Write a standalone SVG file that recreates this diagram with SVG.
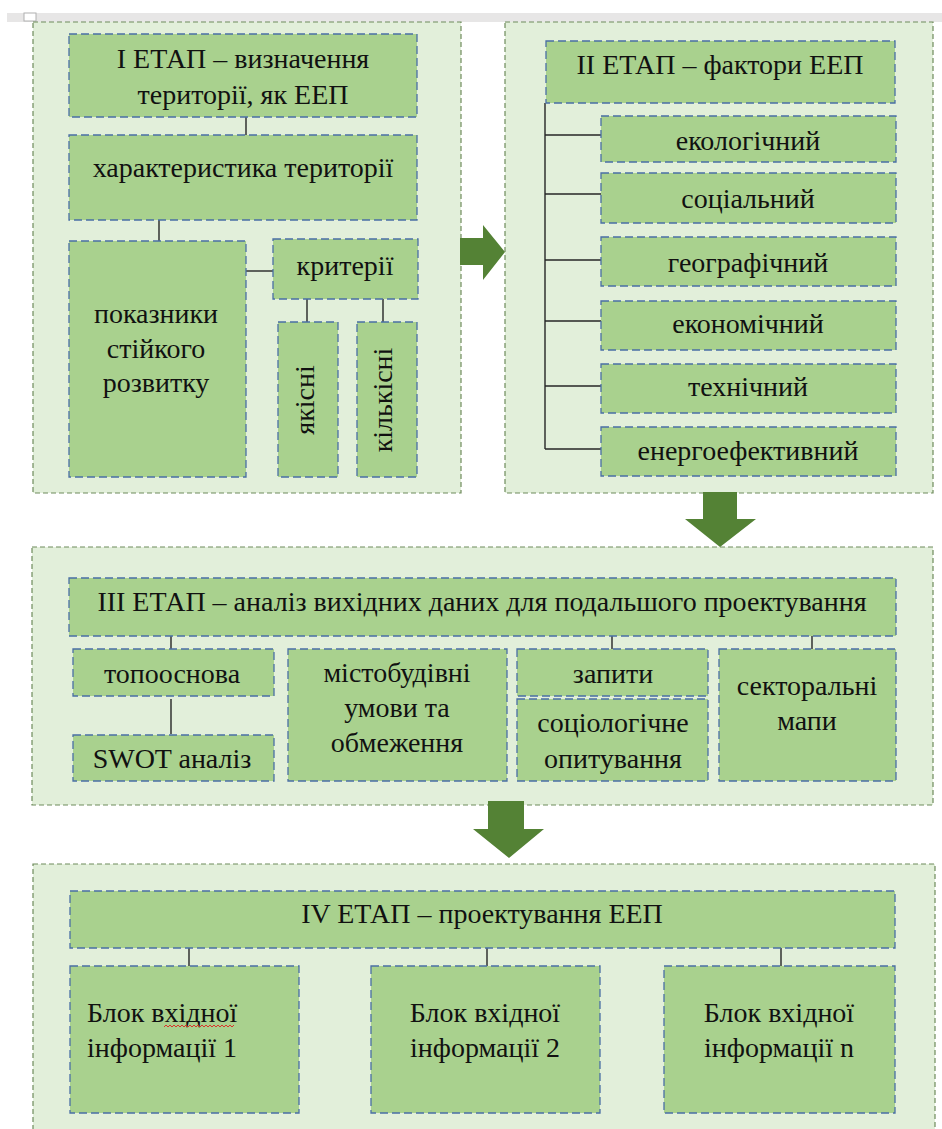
<svg xmlns="http://www.w3.org/2000/svg" width="942" height="1129" viewBox="0 0 942 1129">
  <style>
    .panel { fill: #e2efda; stroke: #6e8b5c; stroke-width: 1.2; stroke-dasharray: 5 3; }
    .box { fill: #a9d18e; stroke: #4a6fa5; stroke-width: 1.3; stroke-dasharray: 8 4; }
    .link { stroke: #262626; stroke-width: 1.4; fill: none; }
    .arrow { fill: #548235; }
    .c { text-anchor: middle; }
  </style>

  <!-- page background and ruler strip -->
  <rect x="0" y="0" width="942" height="1129" fill="#ffffff"/>
  <rect x="7" y="13" width="935" height="9" fill="#e7e6e6"/>
  <rect x="24" y="13" width="12" height="8" fill="#ffffff" stroke="#b0b0b0" stroke-width="1"/>

  <!-- stage panels -->
  <g id="panels">
    <rect class="panel" x="33" y="22" width="428" height="471"/>
    <rect class="panel" x="505" y="22" width="428" height="471"/>
    <rect class="panel" x="32" y="547" width="901" height="258"/>
    <rect class="panel" x="33" y="864" width="902" height="275"/>
  </g>

  <!-- block arrows between stages -->
  <g id="arrows">
    <polygon class="arrow" points="460,238 483,238 483,225 505,252 483,280 483,265 460,265"/>
    <polygon class="arrow" points="703,492 737,492 737,519 756,519 720,547 685,519 703,519"/>
    <polygon class="arrow" points="488,801 524,801 524,829 544,829 509,858 473,829 488,829"/>
  </g>

  <!-- connectors -->
  <g id="connectors">
    <line class="link" x1="246" y1="117" x2="246" y2="135"/>
    <line class="link" x1="159" y1="220" x2="159" y2="241"/>
    <line class="link" x1="246" y1="271" x2="273" y2="271"/>
    <line class="link" x1="307" y1="299" x2="307" y2="322"/>
    <line class="link" x1="383" y1="299" x2="383" y2="322"/>

    <path class="link" d="M545,103 V449"/>
    <line class="link" x1="545" y1="135" x2="601" y2="135"/>
    <line class="link" x1="545" y1="194" x2="601" y2="194"/>
    <line class="link" x1="545" y1="260" x2="601" y2="260"/>
    <line class="link" x1="545" y1="321" x2="601" y2="321"/>
    <line class="link" x1="545" y1="386" x2="601" y2="386"/>
    <line class="link" x1="545" y1="449" x2="601" y2="449"/>

    <line class="link" x1="171" y1="636" x2="171" y2="649"/>
    <line class="link" x1="612" y1="636" x2="612" y2="649"/>
    <line class="link" x1="812" y1="636" x2="812" y2="660"/>
    <line class="link" x1="171" y1="699" x2="171" y2="734"/>

    <line class="link" x1="189" y1="948" x2="189" y2="966"/>
    <line class="link" x1="487" y1="948" x2="487" y2="966"/>
    <line class="link" x1="781" y1="948" x2="781" y2="966"/>
  </g>

  <g font-family="'Liberation Serif', 'Times New Roman', serif" font-size="28" fill="#111111">
  <!-- Stage I -->
  <g id="stage1">
    <rect class="box" x="69" y="34" width="348" height="83"/>
    <text class="c" x="243" y="68">I ЕТАП – визначення</text>
    <text class="c" x="243" y="104">території, як ЕЕП</text>
  </g>
  <g id="territory">
    <rect class="box" x="69" y="135" width="348" height="85"/>
    <text class="c" x="243" y="177">характеристика території</text>
  </g>
  <g id="indicators">
    <rect class="box" x="69" y="241" width="177" height="236"/>
    <text class="c" x="156" y="323">показники</text>
    <text class="c" x="156" y="358">стійкого</text>
    <text class="c" x="156" y="392">розвитку</text>
  </g>
  <g id="criteria">
    <rect class="box" x="273" y="239" width="145" height="60"/>
    <text class="c" x="345" y="275">критерії</text>
  </g>
  <g id="qualitative">
    <rect class="box" x="278" y="322" width="60" height="155"/>
    <text class="c" transform="translate(314,400) rotate(-90)">якісні</text>
  </g>
  <g id="quantitative">
    <rect class="box" x="357" y="322" width="60" height="155"/>
    <text class="c" transform="translate(392,400) rotate(-90)">кількісні</text>
  </g>

  <!-- Stage II -->
  <g id="stage2">
    <rect class="box" x="546" y="41" width="349" height="62"/>
    <text class="c" x="720" y="74">II ЕТАП – фактори ЕЕП</text>
  </g>
  <g id="f-eco">
    <rect class="box" x="601" y="116" width="295" height="46"/>
    <text class="c" x="748" y="150">екологічний</text>
  </g>
  <g id="f-social">
    <rect class="box" x="601" y="173" width="295" height="50"/>
    <text class="c" x="748" y="208">соціальний</text>
  </g>
  <g id="f-geo">
    <rect class="box" x="601" y="237" width="295" height="49"/>
    <text class="c" x="748" y="272">географічний</text>
  </g>
  <g id="f-econ">
    <rect class="box" x="601" y="301" width="295" height="49"/>
    <text class="c" x="748" y="333">економічний</text>
  </g>
  <g id="f-tech">
    <rect class="box" x="601" y="364" width="295" height="49"/>
    <text class="c" x="748" y="396">технічний</text>
  </g>
  <g id="f-energy">
    <rect class="box" x="601" y="427" width="295" height="49"/>
    <text class="c" x="748" y="460">енергоефективний</text>
  </g>

  <!-- Stage III -->
  <g id="stage3">
    <rect class="box" x="69" y="578" width="827" height="58"/>
    <text class="c" x="482" y="611">III ЕТАП – аналіз вихідних даних для подальшого проектування</text>
  </g>
  <g id="topo">
    <rect class="box" x="73" y="649" width="201" height="47"/>
    <text class="c" x="172" y="683">топооснова</text>
  </g>
  <g id="swot">
    <rect class="box" x="73" y="735" width="201" height="46"/>
    <text class="c" x="172" y="768">SWOT аналіз</text>
  </g>
  <g id="urban">
    <rect class="box" x="288" y="649" width="219" height="132"/>
    <text class="c" x="397" y="682">містобудівні</text>
    <text class="c" x="397" y="717">умови та</text>
    <text class="c" x="397" y="752">обмеження</text>
  </g>
  <g id="requests">
    <rect class="box" x="517" y="649" width="191" height="47"/>
    <text class="c" x="613" y="683">запити</text>
  </g>
  <g id="survey">
    <rect class="box" x="517" y="699" width="191" height="82"/>
    <text class="c" x="613" y="732">соціологічне</text>
    <text class="c" x="613" y="768">опитування</text>
  </g>
  <g id="sector-maps">
    <rect class="box" x="719" y="649" width="177" height="132"/>
    <text class="c" x="807" y="695">секторальні</text>
    <text class="c" x="807" y="730">мапи</text>
  </g>

  <!-- Stage IV -->
  <g id="stage4">
    <rect class="box" x="70" y="891" width="825" height="57"/>
    <text class="c" x="482" y="923">IV ЕТАП – проектування ЕЕП</text>
  </g>
  <g id="block1">
    <rect class="box" x="70" y="966" width="229" height="147"/>
    <text x="87" y="1022">Блок вхідної</text>
    <text x="87" y="1057">інформації 1</text>
    <path d="M164,1027 l2,-2 l2,2 l2,-2 l2,2 l2,-2 l2,2 l2,-2 l2,2 l2,-2 l2,2 l2,-2 l2,2 l2,-2 l2,2 l2,-2 l2,2 l2,-2 l2,2 l2,-2 l2,2 l2,-2 l2,2 l2,-2 l2,2 l2,-2 l2,2 l2,-2 l2,2 l2,-2 l2,2 l2,-2 l2,2 l2,-2 l2,2 l2,-2" fill="none" stroke="#e02020" stroke-width="0.9"/>
  </g>
  <g id="block2">
    <rect class="box" x="371" y="966" width="229" height="147"/>
    <text class="c" x="485" y="1022">Блок вхідної</text>
    <text class="c" x="485" y="1057">інформації 2</text>
  </g>
  <g id="blockn">
    <rect class="box" x="664" y="966" width="231" height="147"/>
    <text class="c" x="779" y="1022">Блок вхідної</text>
    <text class="c" x="779" y="1057">інформації n</text>
  </g>
  </g>
</svg>
